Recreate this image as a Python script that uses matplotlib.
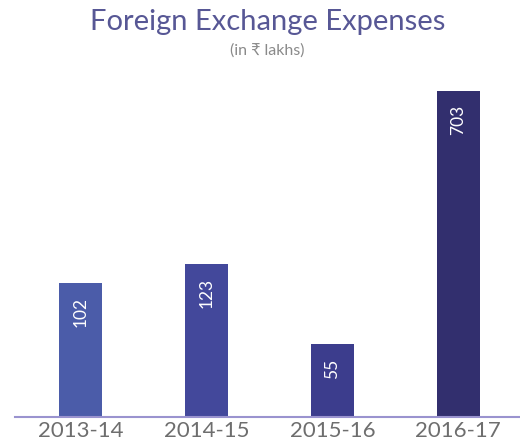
import numpy as np
import matplotlib
matplotlib.use("Agg")
import matplotlib.pyplot as plt

# data
years = ["2013-14", "2014-15", "2015-16", "2016-17"]
expenses = [102, 123, 55, 703]  # in lakhs of rupees
bar_colors = ["#4b5ca9", "#43489b", "#3c3d8d", "#322f6e"]

plt.rcParams["font.family"] = ["Lato", "DejaVu Sans"]

fig = plt.figure(figsize=(5.2, 4.46), dpi=100)
ax = fig.add_axes([15 / 520, 29 / 446, 505 / 520, 357 / 446])

x = np.arange(len(years))
# the original bars are not drawn to a linear scale; a log axis is close
ax.set_yscale("log")
bars = ax.bar(x, expenses, width=0.34, color=bar_colors, zorder=2)
ax.set_ylim(26.5, 960)
ax.set_xlim(-0.52, 3.49)

for b, v in zip(bars, expenses):
    ax.annotate(str(v), xy=(b.get_x() + b.get_width() / 2, b.get_height()),
                xytext=(0, -10), textcoords="offset points",
                ha="center", va="top", rotation=90,
                color="white", fontsize=12.5)

for s in ["top", "left", "right"]:
    ax.spines[s].set_visible(False)
ax.spines["bottom"].set_color("#9a93cf")
ax.spines["bottom"].set_linewidth(1.5)
ax.yaxis.set_visible(False)
ax.set_xticks(x)
ax.set_xticklabels(years, fontsize=16, color="#6e6e6e")
ax.tick_params(axis="x", length=0, pad=3)

fig.text(268 / 520, 1 - 22 / 446, "Foreign Exchange Expenses", ha="center", va="center",
         fontsize=21, color="#575795")
fig.text(267 / 520, 1 - 51 / 446, "(in \u20b9 lakhs)", ha="center", va="center",
         fontsize=11.5, color="#8a8a8a")

fig.savefig("out.png", dpi=100)
